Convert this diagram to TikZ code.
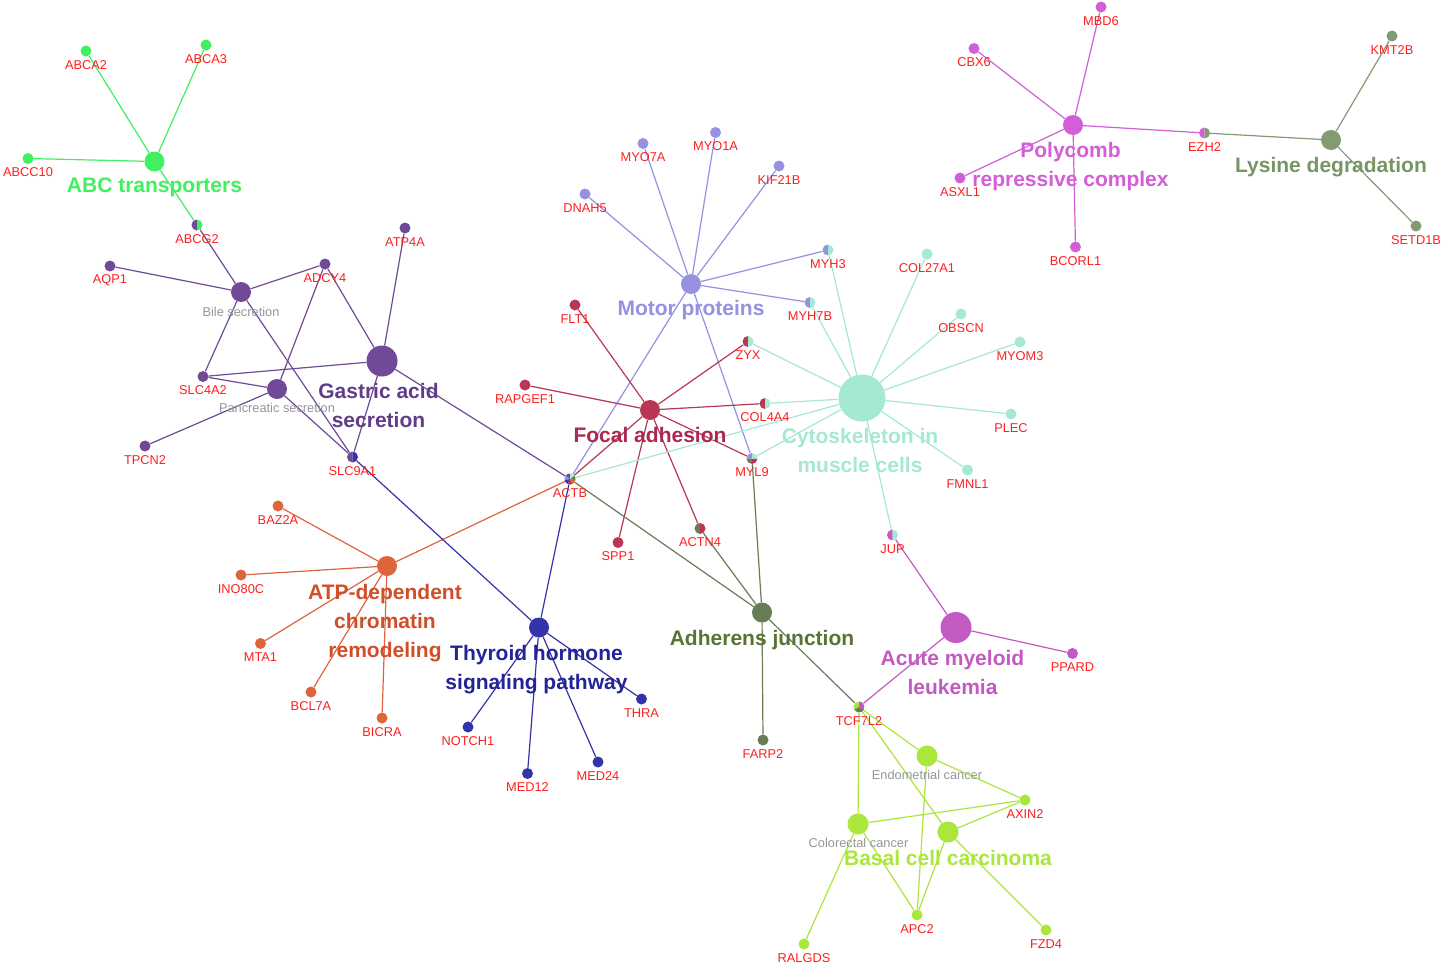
\documentclass[tikz,border=0pt]{standalone}
\usepackage{fontspec}
\setmainfont{Liberation Sans}
\pgfdeclarelayer{bg}
\pgfdeclarelayer{edges}
\pgfsetlayers{bg,edges,main}
\definecolor{cABC}{RGB}{64,240,96}
\definecolor{cPur}{RGB}{112,74,150}
\definecolor{cPurT}{RGB}{98,60,138}
\definecolor{cMot}{RGB}{150,145,225}
\definecolor{cFoc}{RGB}{185,55,85}
\definecolor{cFocT}{RGB}{172,40,80}
\definecolor{cCyt}{RGB}{165,232,212}
\definecolor{cPcg}{RGB}{210,95,215}
\definecolor{cLys}{RGB}{130,155,115}
\definecolor{cLysT}{RGB}{120,150,100}
\definecolor{cAtp}{RGB}{222,100,62}
\definecolor{cAtpT}{RGB}{208,78,40}
\definecolor{cThy}{RGB}{52,52,170}
\definecolor{cThyT}{RGB}{36,36,150}
\definecolor{cAdj}{RGB}{105,125,85}
\definecolor{cAdjT}{RGB}{90,115,50}
\definecolor{cAml}{RGB}{195,90,195}
\definecolor{cBcc}{RGB}{170,230,60}
\definecolor{cGene}{RGB}{255,30,30}
\definecolor{cGrey}{RGB}{150,150,150}
\tikzset{
  gn/.style={circle, inner sep=0pt, minimum size=11pt},
  hubnode/.style={circle, inner sep=0pt, minimum size=20pt},
  glab/.style={text=cGene, font=\fontsize{12.8}{14}\selectfont, inner sep=0pt},
  greylab/.style={text=cGrey, font=\fontsize{12.8}{14}\selectfont, inner sep=0pt},
  biglab/.style={font=\bfseries\fontsize{21}{29}\selectfont, align=center, inner sep=0pt, anchor=north},
  edge/.style={line width=1.2pt}
}
\newcommand{\gene}[4]{%
  \node[gn, fill=#4] (#1) at (#2,#3) {};
  \node[glab] (#1-l) at ([yshift=-14pt]#1.center) {#1};}
\newcommand{\pgene}[3]{%
  \node[gn] (#1) at (#2,#3) {};
  \node[glab] (#1-l) at ([yshift=-14pt]#1.center) {#1};}
\newcommand{\pieslices}[2]{%
  \foreach \c/\a/\b in {#2}{\fill[\c] (#1.center) -- ++(\a:5.5pt) arc[start angle=\a, end angle=\b, radius=5.5pt] -- cycle;}}
\begin{document}
\begin{tikzpicture}[x=1pt,y=-1pt]
\useasboundingbox (0,0) rectangle (1448,974);
\begin{pgfonlayer}{bg}
\fill[white] (0,0) rectangle (1448,974);
\end{pgfonlayer}

% ---------- hubs ----------
\node[hubnode, fill=cABC] (abc) at (154.5,161.5) {};
\node[hubnode, fill=cPur] (bile) at (241,292) {};
\node[hubnode, fill=cPur] (panc) at (277,389) {};
\node[hubnode, fill=cPur, minimum size=31pt] (gastric) at (382,361) {};
\node[hubnode, fill=cMot] (motor) at (691,284) {};
\node[hubnode, fill=cFoc] (focal) at (650,410) {};
\node[hubnode, fill=cCyt, minimum size=47pt] (cyto) at (862,398) {};
\node[hubnode, fill=cPcg] (pcg) at (1073,125) {};
\node[hubnode, fill=cLys] (lys) at (1331,140) {};
\node[hubnode, fill=cAtp] (atp) at (387,566) {};
\node[hubnode, fill=cThy] (thy) at (539,627.5) {};
\node[hubnode, fill=cAdj] (adj) at (762,612.5) {};
\node[hubnode, fill=cAml, minimum size=31pt] (aml) at (956,627.5) {};
\node[hubnode, fill=cBcc, minimum size=21pt] (endo) at (927,756) {};
\node[hubnode, fill=cBcc, minimum size=21pt] (colo) at (858,824) {};
\node[hubnode, fill=cBcc, minimum size=21pt] (bcc) at (948,832) {};

% ---------- genes ----------
\gene{ABCA2}{86}{51}{cABC}
\gene{ABCA3}{206}{45}{cABC}
\gene{ABCC10}{28}{158.5}{cABC}
\pgene{ABCG2}{197}{225}
\pieslices{ABCG2}{cPur/90/270, cABC/-90/90}
\gene{AQP1}{110}{266}{cPur}
\gene{ADCY4}{325}{264}{cPur}
\gene{ATP4A}{405}{228}{cPur}
\gene{SLC4A2}{203}{376.5}{cPur}
\gene{TPCN2}{145}{446}{cPur}
\pgene{SLC9A1}{352.5}{457}
\pieslices{SLC9A1}{cPur/90/270, cThy/-90/90}

\gene{MYO7A}{643}{143.5}{cMot}
\gene{MYO1A}{715.5}{132.5}{cMot}
\gene{KIF21B}{779}{166}{cMot}
\gene{DNAH5}{585}{194}{cMot}
\pgene{MYH3}{828}{250}
\pieslices{MYH3}{cMot/90/270, cCyt/-90/90}
\pgene{MYH7B}{810}{302.5}
\pieslices{MYH7B}{cMot/90/270, cCyt/-90/90}

\gene{FLT1}{575}{305}{cFoc}
\gene{RAPGEF1}{525}{385}{cFoc}
\pgene{ZYX}{748}{341.5}
\pieslices{ZYX}{cFoc/90/270, cCyt/-90/90}
\pgene{COL4A4}{765}{403.5}
\pieslices{COL4A4}{cFoc/90/270, cCyt/-90/90}
\pgene{MYL9}{752}{458.5}
\pieslices{MYL9}{cMot/90/180, cAdj/180/270, cFoc/270/360, cCyt/0/90}
\gene{SPP1}{618}{542.5}{cFoc}
\pgene{ACTN4}{700}{528.5}
\pieslices{ACTN4}{cAdj/90/270, cFoc/-90/90}
\pgene{ACTB}{570}{479}
\pieslices{ACTB}{cPur/90/141.4, cMot/141.4/192.8, cThy/192.8/244.2, cFoc/244.2/295.6, cAtp/295.6/347, cAdj/347/398.4, cCyt/398.4/450}

\gene{COL27A1}{927}{254}{cCyt}
\gene{OBSCN}{961}{314}{cCyt}
\gene{MYOM3}{1020}{342}{cCyt}
\gene{PLEC}{1011}{414}{cCyt}
\gene{FMNL1}{967.5}{470}{cCyt}
\pgene{JUP}{892.5}{535}
\pieslices{JUP}{cAml/90/270, cCyt/-90/90}

\gene{MBD6}{1101}{7}{cPcg}
\gene{CBX6}{974}{48.5}{cPcg}
\gene{ASXL1}{960}{178}{cPcg}
\gene{BCORL1}{1075.5}{247}{cPcg}
\pgene{EZH2}{1204.5}{133}
\pieslices{EZH2}{cPcg/90/270, cLys/-90/90}
\gene{KMT2B}{1392}{36}{cLys}
\gene{SETD1B}{1416}{226}{cLys}

\gene{BAZ2A}{278}{506}{cAtp}
\gene{INO80C}{241}{575}{cAtp}
\gene{MTA1}{260.5}{643.5}{cAtp}
\gene{BCL7A}{311}{692}{cAtp}
\gene{BICRA}{382}{718}{cAtp}

\gene{NOTCH1}{468}{727}{cThy}
\gene{MED12}{527.5}{773.5}{cThy}
\gene{MED24}{598}{762}{cThy}
\gene{THRA}{641.5}{699}{cThy}

\gene{FARP2}{763}{740}{cAdj}
\gene{PPARD}{1072.5}{653.5}{cAml}
\pgene{TCF7L2}{859}{707}
\pieslices{TCF7L2}{cBcc/90/210, cAdj/210/330, cAml/330/450}

\gene{AXIN2}{1025}{800}{cBcc}
\gene{APC2}{917}{915}{cBcc}
\gene{FZD4}{1046}{930}{cBcc}
\gene{RALGDS}{804}{944}{cBcc}

% ---------- edges ----------
\begin{pgfonlayer}{edges}
\foreach \g in {ABCA2,ABCA3,ABCC10,ABCG2} \draw[edge,cABC] (abc) -- (\g);
\foreach \g in {ABCG2,AQP1,ADCY4,SLC4A2,SLC9A1} \draw[edge,cPur] (bile) -- (\g);
\foreach \g in {ADCY4,SLC4A2,TPCN2,SLC9A1} \draw[edge,cPur] (panc) -- (\g);
\foreach \g in {ADCY4,ATP4A,SLC4A2,SLC9A1,ACTB} \draw[edge,cPur] (gastric) -- (\g);
\foreach \g in {MYO7A,MYO1A,KIF21B,DNAH5,MYH3,MYH7B,ACTB,MYL9} \draw[edge,cMot] (motor) -- (\g);
\foreach \g in {FLT1,RAPGEF1,ZYX,COL4A4,MYL9,SPP1,ACTN4,ACTB} \draw[edge,cFoc] (focal) -- (\g);
\foreach \g in {MYH3,MYH7B,COL27A1,OBSCN,MYOM3,PLEC,FMNL1,JUP,ZYX,COL4A4,MYL9,ACTB} \draw[edge,cCyt] (cyto) -- (\g);
\foreach \g in {MBD6,CBX6,ASXL1,BCORL1,EZH2} \draw[edge,cPcg] (pcg) -- (\g);
\foreach \g in {EZH2,KMT2B,SETD1B} \draw[edge,cLys] (lys) -- (\g);
\foreach \g in {BAZ2A,INO80C,MTA1,BCL7A,BICRA,ACTB} \draw[edge,cAtp] (atp) -- (\g);
\foreach \g in {NOTCH1,MED12,MED24,THRA,ACTB,SLC9A1} \draw[edge,cThy] (thy) -- (\g);
\foreach \g in {FARP2,ACTB,ACTN4,MYL9,TCF7L2} \draw[edge,cAdj] (adj) -- (\g);
\foreach \g in {JUP,PPARD,TCF7L2} \draw[edge,cAml] (aml) -- (\g);
\foreach \g in {TCF7L2,AXIN2,APC2} \draw[edge,cBcc] (endo) -- (\g);
\foreach \g in {TCF7L2,AXIN2,APC2,RALGDS} \draw[edge,cBcc] (colo) -- (\g);
\foreach \g in {TCF7L2,AXIN2,APC2,FZD4} \draw[edge,cBcc] (bcc) -- (\g);
\end{pgfonlayer}

% ---------- hub labels ----------
\node[biglab, text=cABC] (abc-l) at (154.5,178) {ABC transporters};
\node[biglab, text=cPurT] (gastric-l) at (378.5,383) {Gastric acid\\secretion};
\node[greylab] (bile-l) at (241,311.5) {Bile secretion};
\node[greylab] (panc-l) at (277,408) {Pancreatic secretion};
\node[biglab, text=cMot] (motor-l) at (691,300) {Motor proteins};
\node[biglab, text=cFocT] (focal-l) at (650,427) {Focal adhesion};
\node[biglab, text=cCyt] (cyto-l) at (860,428) {Cytoskeleton in\\muscle cells};
\node[biglab, text=cPcg] (pcg-l) at (1070.5,142) {Polycomb\\repressive complex};
\node[biglab, text=cLysT] (lys-l) at (1331,157) {Lysine degradation};
\node[biglab, text=cAtpT] (atp-l) at (385,584) {ATP-dependent\\chromatin\\remodeling};
\node[biglab, text=cThyT] (thy-l) at (536.5,645) {Thyroid hormone\\signaling pathway};
\node[biglab, text=cAdjT] (adj-l) at (762,630) {Adherens junction};
\node[biglab, text=cAml] (aml-l) at (952.5,650) {Acute myeloid\\leukemia};
\node[greylab] (endo-l) at (927,775) {Endometrial cancer};
\node[greylab] (colo-l) at (858.5,843) {Colorectal cancer};
\node[biglab, text=cBcc] (bcc-l) at (948,850) {Basal cell carcinoma};
\end{tikzpicture}
\end{document}
